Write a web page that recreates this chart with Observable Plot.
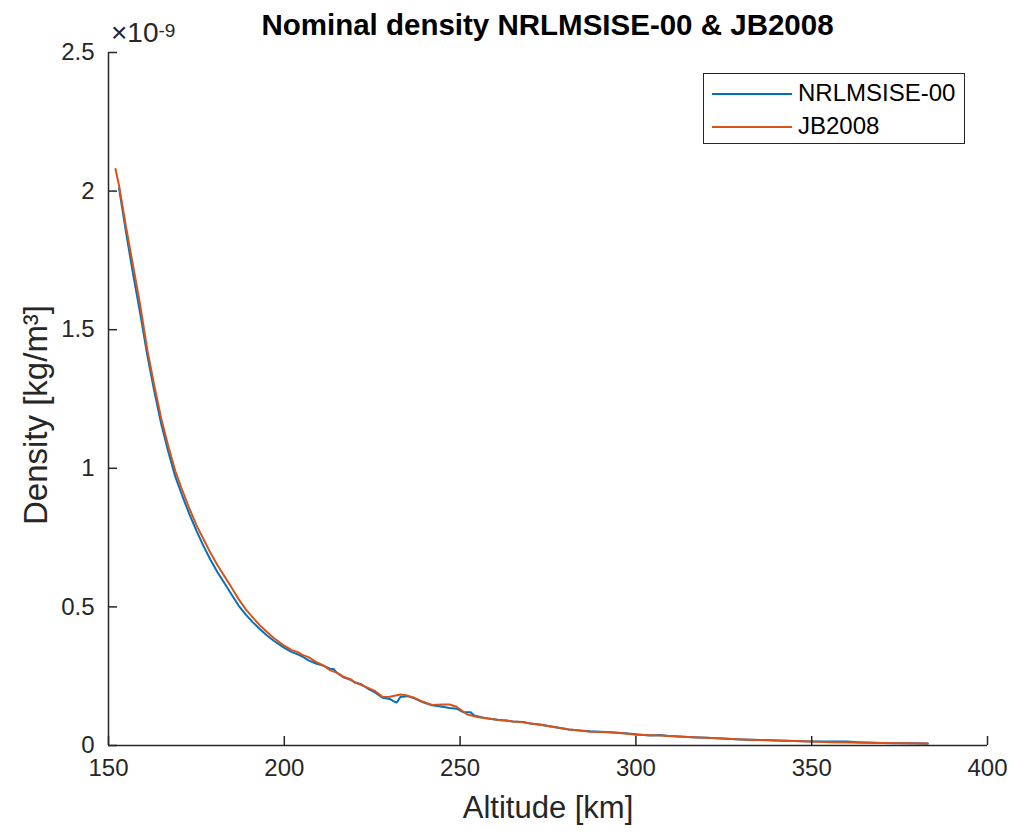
<!DOCTYPE html>
<html>
<head>
<meta charset="utf-8">
<script src="https://cdn.jsdelivr.net/npm/d3@7"></script>
<script src="https://cdn.jsdelivr.net/npm/@observablehq/plot@0.6"></script>
<style>
  html, body { margin: 0; padding: 0; background: #fff; }
  #wrap { position: relative; width: 1014px; height: 834px; font-family: "Liberation Sans", Arial, Helvetica, sans-serif; }
  #wrap svg { position: absolute; left: 0; top: 0; }
  #title { position: absolute; left: 0; width: 1095px; top: 10px; text-align: center; font-weight: bold; font-size: 29.5px; line-height: 29.5px; color: #000; }
  #exp { position: absolute; left: 111px; top: 19px; font-size: 28px; line-height: 28px; color: #262626; }
  #exp sup { font-size: 19px; position: relative; top: -5px; vertical-align: baseline; }
  #legend { position: absolute; left: 703px; top: 73px; width: 260px; height: 69px; border: 1px solid #262626; background: #fff; }
  .row { position: absolute; left: 8px; height: 24px; font-size: 24px; line-height: 24px; color: #000; white-space: nowrap; }
  .row .sw { display: inline-block; width: 80px; height: 0; border-top: 2px solid; vertical-align: middle; margin-right: 6px; position: relative; top: -1px; }
</style>
</head>
<body>
<div id="wrap">
  <div id="chart"></div>
  <div id="title">Nominal density NRLMSISE-00 &amp; JB2008</div>
  <div id="exp">×10<sup>-9</sup></div>
  <div id="legend"></div>
</div>
<script>
// Altitude [km] and density [×10^-9 kg/m^3]
const nrlAlt = [153,155,157,159,161,163,165,167,169,171,173,175,177,179,181,183,185,187,189,191,193,195,197,200,202,204,205,207,209,211,213,214,215,217,219,220,222,224,226,228,230,231,232,233,235,237,239,242,245,247,249,251,253,254,256,258,261,263,265,268,270,273,275,278,281,284,287,290,293,297,300,304,307,309,311,316,320,324,330,335,340,345,350,356,360,363,370,377,383];
const nrlDensity = [2.01,1.85,1.70,1.56,1.41,1.28,1.16,1.06,0.97,0.90,0.835,0.775,0.72,0.67,0.625,0.585,0.545,0.505,0.473,0.445,0.42,0.398,0.378,0.352,0.338,0.328,0.322,0.306,0.296,0.288,0.277,0.276,0.262,0.245,0.236,0.228,0.22,0.203,0.19,0.172,0.168,0.16,0.155,0.175,0.178,0.17,0.158,0.145,0.14,0.135,0.133,0.12,0.12,0.108,0.102,0.097,0.092,0.09,0.087,0.085,0.079,0.075,0.07,0.064,0.058,0.054,0.051,0.05,0.048,0.044,0.041,0.036,0.038,0.034,0.033,0.030,0.028,0.025,0.022,0.02,0.018,0.016,0.014,0.014,0.014,0.012,0.009,0.008,0.007];

const jbAlt = [152,153,155,157,159,161,163,165,167,169,171,173,175,177,179,181,183,185,187,189,191,193,195,197,200,202,204,205,207,209,211,213,215,217,219,220,222,224,226,228,230,233,235,237,239,242,245,247,249,252,255,258,261,263,265,268,270,273,275,278,281,284,287,290,293,297,300,304,307,311,316,320,324,330,335,340,345,350,355,360,365,370,377,383];
const jbDensity = [2.08,2.02,1.87,1.73,1.59,1.43,1.30,1.18,1.08,0.99,0.92,0.855,0.795,0.745,0.695,0.65,0.61,0.57,0.528,0.492,0.462,0.434,0.41,0.388,0.36,0.345,0.336,0.328,0.318,0.302,0.29,0.272,0.262,0.247,0.238,0.228,0.218,0.207,0.195,0.175,0.176,0.184,0.18,0.172,0.16,0.146,0.148,0.148,0.14,0.112,0.103,0.097,0.092,0.09,0.087,0.084,0.079,0.075,0.07,0.064,0.058,0.054,0.05,0.049,0.047,0.043,0.039,0.037,0.036,0.033,0.030,0.028,0.026,0.022,0.02,0.018,0.016,0.014,0.012,0.011,0.01,0.009,0.008,0.007];

const seriesNames = ["NRLMSISE-00", "JB2008"];
const seriesColors = ["#0072BD", "#D95319"];
const xTicks = [150, 200, 250, 300, 350, 400];
const yTicks = [0, 0.5, 1, 1.5, 2, 2.5];

const nrl = nrlAlt.map((a, i) => ({alt: a, rho: nrlDensity[i]}));
const jb = jbAlt.map((a, i) => ({alt: a, rho: jbDensity[i]}));

const W = 1014, H = 834, mL = 108, mR = 27, mT = 52, mB = 89;
const axisColor = "#262626";

const chart = Plot.plot({
  width: W, height: H,
  marginLeft: mL, marginRight: mR, marginTop: mT, marginBottom: mB,
  style: {fontFamily: '"Liberation Sans", Arial, Helvetica, sans-serif', background: "#fff", color: axisColor},
  x: {domain: [150, 400], ticks: xTicks},
  y: {domain: [0, 2.5], ticks: yTicks},
  marks: [
    Plot.axisX(xTicks, {tickSize: 0, tickPadding: 13, fontSize: 24, label: null, fill: axisColor}),
    Plot.axisY(yTicks, {tickSize: 0, tickPadding: 14, fontSize: 24, label: null, fill: axisColor, tickFormat: d => String(d)}),
    Plot.line(nrl, {x: "alt", y: "rho", stroke: seriesColors[0], strokeWidth: 2}),
    Plot.line(jb, {x: "alt", y: "rho", stroke: seriesColors[1], strokeWidth: 2}),
    Plot.ruleY([0], {stroke: axisColor, strokeWidth: 1.5}),
    Plot.ruleX([150], {stroke: axisColor, strokeWidth: 1.5}),
    Plot.tickX(xTicks, {x: d => d, stroke: axisColor, strokeWidth: 1.5, insetTop: (H - mT - mB) - 9}),
    Plot.tickY(yTicks, {y: d => d, stroke: axisColor, strokeWidth: 1.5, insetRight: (W - mL - mR) - 9}),
    Plot.text(["Altitude [km]"], {frameAnchor: "bottom", dy: 50, lineAnchor: "top", textAnchor: "middle", fontSize: 31, fill: axisColor}),
    Plot.text(["Density [kg/m³]"], {frameAnchor: "left", dx: -72, dy: 16, rotate: -90, textAnchor: "middle", fontSize: 33, fill: axisColor})
  ]
});
document.getElementById("chart").appendChild(chart);

const legend = document.getElementById("legend");
seriesNames.forEach((name, i) => {
  const row = document.createElement("div");
  row.className = "row";
  row.style.top = (7 + i * 33) + "px";
  const sw = document.createElement("span");
  sw.className = "sw";
  sw.style.borderColor = seriesColors[i];
  row.appendChild(sw);
  row.appendChild(document.createTextNode(name));
  legend.appendChild(row);
});
</script>
</body>
</html>
